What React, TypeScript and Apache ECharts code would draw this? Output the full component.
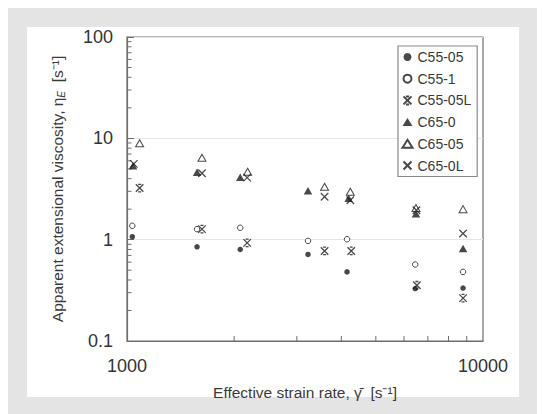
import React, { useEffect, useRef } from "react";
import * as echarts from "echarts";

// ---- data (x = effective strain rate, y = apparent extensional viscosity) ----
const C55_05: [number, number][] = [
  [1035, 1.07], [1573, 0.85], [2080, 0.8], [3224, 0.714], [4150, 0.481], [6450, 0.329], [8790, 0.333],
];
const C55_1: [number, number][] = [
  [1035, 1.37], [1573, 1.27], [2080, 1.31], [3224, 0.973], [4150, 1.01], [6450, 0.569], [8790, 0.481],
];
const C55_05L: [number, number][] = [
  [1085, 3.23], [1624, 1.27], [2175, 0.93], [3589, 0.774], [4264, 0.774], [6520, 0.355], [8790, 0.265],
];
const C65_0: [number, number][] = [
  [1040, 5.37], [1573, 4.62], [2080, 4.12], [3224, 3.04], [4193, 2.56], [6483, 1.8], [8790, 0.818],
];
const C65_05: [number, number][] = [
  [1085, 8.94], [1624, 6.44], [2182, 4.68], [3589, 3.33], [4239, 2.97], [6483, 2.05], [8790, 2.0],
];
const C65_0L: [number, number][] = [
  [1045, 5.6], [1624, 4.52], [2175, 4.1], [3589, 2.65], [4239, 2.45], [6500, 1.95], [8790, 1.15],
];
const SERIES_NAMES = ["C55-05", "C55-1", "C55-05L", "C65-0", "C65-05", "C65-0L"];
const X_MIN = 1000;
const X_MAX = 10000;
const Y_MIN = 0.1;
const Y_MAX = 100;
const X_MINOR = [2000, 3000, 4000, 5000, 6000, 7000, 8000, 9000];
const Y_MINOR = [
  0.2, 0.3, 0.4, 0.5, 0.6, 0.7, 0.8, 0.9,
  2, 3, 4, 5, 6, 7, 8, 9,
  20, 30, 40, 50, 60, 70, 80, 90,
];

const INK = "#1a1a1a";
const AXIS = "#6e6e6e";
const TXT = "#3a3a3a";
const FONT = "'Liberation Sans', Arial, Helvetica, sans-serif";

const HOURGLASS = "path://M3,0L7,0M3,10L7,10M0,0L10,10M10,0L0,10";
const CROSS = "path://M0,0L10,10M10,0L0,10";

export default function App() {
  const ref = useRef<HTMLDivElement>(null);
  useEffect(() => {
    if (!ref.current) return;
    const chart = echarts.init(ref.current, undefined, { renderer: "svg" });
    const tickSeries = (data: number[][], horizontal: boolean) => ({
      type: "custom",
      coordinateSystem: "cartesian2d",
      silent: true,
      clip: false,
      z: 1,
      data,
      renderItem: (_p: any, api: any) => {
        const p = api.coord([api.value(0), api.value(1)]);
        return {
          type: "line",
          shape: horizontal
            ? { x1: p[0], y1: p[1], x2: p[0] + 4.5, y2: p[1] }
            : { x1: p[0], y1: p[1], x2: p[0], y2: p[1] - 5 },
          style: { stroke: AXIS, lineWidth: 1 },
        };
      },
    });
    const option: any = {
      animation: false,
      backgroundColor: "transparent",
      textStyle: { fontFamily: FONT },
      grid: {
        left: 127,
        right: 62,
        top: 37,
        bottom: 73,
        show: true,
        borderColor: AXIS,
        borderWidth: 1.2,
        backgroundColor: "transparent",
      },
      legend: {
        data: SERIES_NAMES,
        orient: "vertical",
        left: 398,
        top: 46,
        itemWidth: 10,
        itemHeight: 8,
        itemGap: 7.7,
        padding: [4, 6, 4, 3],
        borderColor: "#8a8a8a",
        borderWidth: 1.2,
        backgroundColor: "#fff",
        textStyle: { fontSize: 14, color: TXT, fontFamily: FONT, lineHeight: 14 },
      },
      xAxis: {
        type: "log",
        logBase: 10,
        min: X_MIN,
        max: X_MAX,
        name: "Effective strain rate, \u03B3\u0307\u0304  [s\u207B\u00B9]",
        nameLocation: "middle",
        nameGap: 43,
        nameTextStyle: { fontSize: 15.5, color: TXT, fontFamily: FONT },
        axisLine: { show: true, lineStyle: { color: AXIS, width: 1.2 } },
        axisTick: { show: false },
        splitLine: { show: false },
        axisLabel: {
          fontSize: 18,
          color: "#333",
          margin: 16,
          fontFamily: FONT,
          showMinLabel: true,
          showMaxLabel: true,
          formatter: (v: number) => String(Math.round(v)),
        },
      },
      yAxis: {
        type: "log",
        logBase: 10,
        min: Y_MIN,
        max: Y_MAX,
        name: "{a|Apparent extensional viscosity, \u03B7}{s|E}{a|  [s\u207B\u00B9]}",
        nameLocation: "middle",
        nameGap: 61,
        nameTextStyle: {
          fontSize: 15.5,
          color: TXT,
          fontFamily: FONT,
          rich: {
            a: { fontSize: 15.5, color: TXT, fontFamily: FONT },
            s: { fontSize: 10, color: TXT, fontFamily: FONT, fontStyle: "italic", verticalAlign: "bottom", padding: [7, 0, 0, 0] },
          },
        },
        axisLine: { show: true, lineStyle: { color: AXIS, width: 1.2 } },
        axisTick: { show: true, inside: true, length: 7, lineStyle: { color: AXIS } },
        splitLine: { show: true, lineStyle: { color: "#e6e6e6", width: 1 } },
        axisLabel: {
          fontSize: 18,
          color: "#333",
          margin: 14,
          fontFamily: FONT,
          formatter: (v: number) => (v < 1 ? v.toFixed(1) : String(Math.round(v))),
        },
      },
      series: [
        tickSeries(X_MINOR.map((v) => [v, Y_MIN]), false),
        tickSeries(Y_MINOR.map((v) => [X_MIN, v]), true),
        {
          name: "C55-05", type: "scatter", data: C55_05, symbol: "circle", symbolSize: 5.5,
          itemStyle: { color: INK },
        },
        {
          name: "C55-1", type: "scatter", data: C55_1, symbol: "circle", symbolSize: 5.5,
          itemStyle: { color: "#fff", borderColor: INK, borderWidth: 1 },
        },
        {
          name: "C55-05L", type: "scatter", data: C55_05L, symbol: HOURGLASS, symbolSize: 7.5,
          itemStyle: { color: "none", borderColor: INK, borderWidth: 1.3 },
        },
        {
          name: "C65-0", type: "scatter", data: C65_0, symbol: "triangle", symbolSize: [8.5, 7.5],
          itemStyle: { color: INK },
        },
        {
          name: "C65-05", type: "scatter", data: C65_05, symbol: "triangle", symbolSize: [8, 7],
          itemStyle: { color: "#fff", borderColor: INK, borderWidth: 1 },
        },
        {
          name: "C65-0L", type: "scatter", data: C65_0L, symbol: CROSS, symbolSize: 7.5,
          itemStyle: { color: "none", borderColor: INK, borderWidth: 1.2 },
        },
      ],
    };
    chart.setOption(option);
    return () => chart.dispose();
  }, []);

  return (
    <div style={{ position: "absolute", left: 0, top: 0, width: 545, height: 414, background: "#fff" }}>
      <div style={{ position: "absolute", left: 8, top: 8, width: 529, bottom: 0, background: "#e4e4e4" }} />
      <div style={{ position: "absolute", left: 27, top: 27, width: 492, height: 370, background: "#fff" }} />
      <div ref={ref} style={{ position: "absolute", left: 0, top: 0, width: 545, height: 414 }} />
    </div>
  );
}
